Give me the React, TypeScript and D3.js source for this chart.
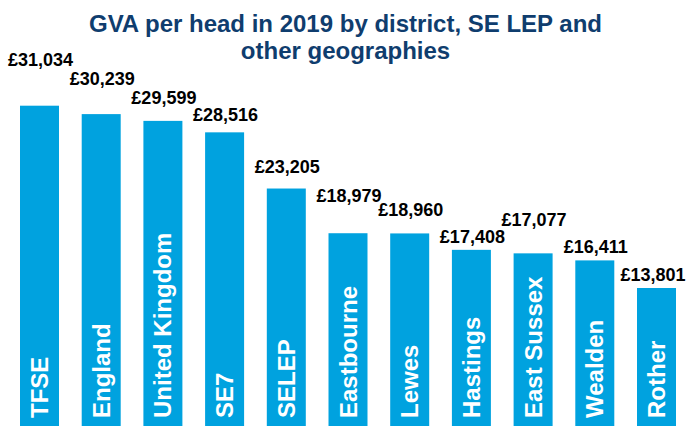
import React from "react";
import * as d3 from "d3";

const categories = [
  "TFSE",
  "England",
  "United Kingdom",
  "SE7",
  "SELEP",
  "Eastbourne",
  "Lewes",
  "Hastings",
  "East Sussex",
  "Wealden",
  "Rother",
];
const gvaPerHead = [31034, 30239, 29599, 28516, 23205, 18979, 18960, 17408, 17077, 16411, 13801];
const titleLines = ["GVA per head in 2019 by district, SE LEP and", "other geographies"];

// layout: how far above each bar top the value label's baseline sits (px)
const labelLift = [40, 29, 17, 11, 16, 31, 17, 7, 27, 7, 7];

const W = 688;
const H = 426;
const BAR_COLOR = "#00A2DF";
const TITLE_COLOR = "#0F3D6E";
const FONT = "'Liberation Sans', Arial, sans-serif";

export default function App() {
  const x = d3
    .scaleBand<string>()
    .domain(categories)
    .range([8.65, 687.35])
    .paddingInner(0.368)
    .paddingOuter(0.184);
  const y = d3.scaleLinear().domain([0, d3.max(gvaPerHead) as number]).range([434, 105.7]);
  const fmt = (v: number) => "£" + d3.format(",")(v);

  return (
    <svg
      width={W}
      height={H}
      style={{ position: "absolute", left: 0, top: 0, background: "#fff" }}
      fontFamily={FONT}
    >
      <rect x={0} y={0} width={W} height={H} fill="#fff" />
      {titleLines.map((t, i) => (
        <text
          key={i}
          x={345.5}
          y={32 + i * 27}
          textAnchor="middle"
          fontSize={24}
          fontWeight="bold"
          fill={TITLE_COLOR}
        >
          {t}
        </text>
      ))}
      {categories.map((c, i) => {
        const bx = x(c) as number;
        const bw = x.bandwidth();
        const top = y(gvaPerHead[i]);
        const cx = bx + bw / 2;
        return (
          <g key={c}>
            <rect x={bx} y={top} width={bw} height={y(0) - top} fill={BAR_COLOR} />
            <text
              x={Math.min(cx + 1, W - 35)}
              y={top - labelLift[i]}
              textAnchor="middle"
              fontSize={18}
              fontWeight="bold"
              fill="#000"
            >
              {fmt(gvaPerHead[i])}
            </text>
            <text
              transform={`translate(${cx + 8.5},418) rotate(-90)`}
              textAnchor="start"
              fontSize={24}
              fontWeight="bold"
              fill="#fff"
            >
              {c}
            </text>
          </g>
        );
      })}
    </svg>
  );
}
